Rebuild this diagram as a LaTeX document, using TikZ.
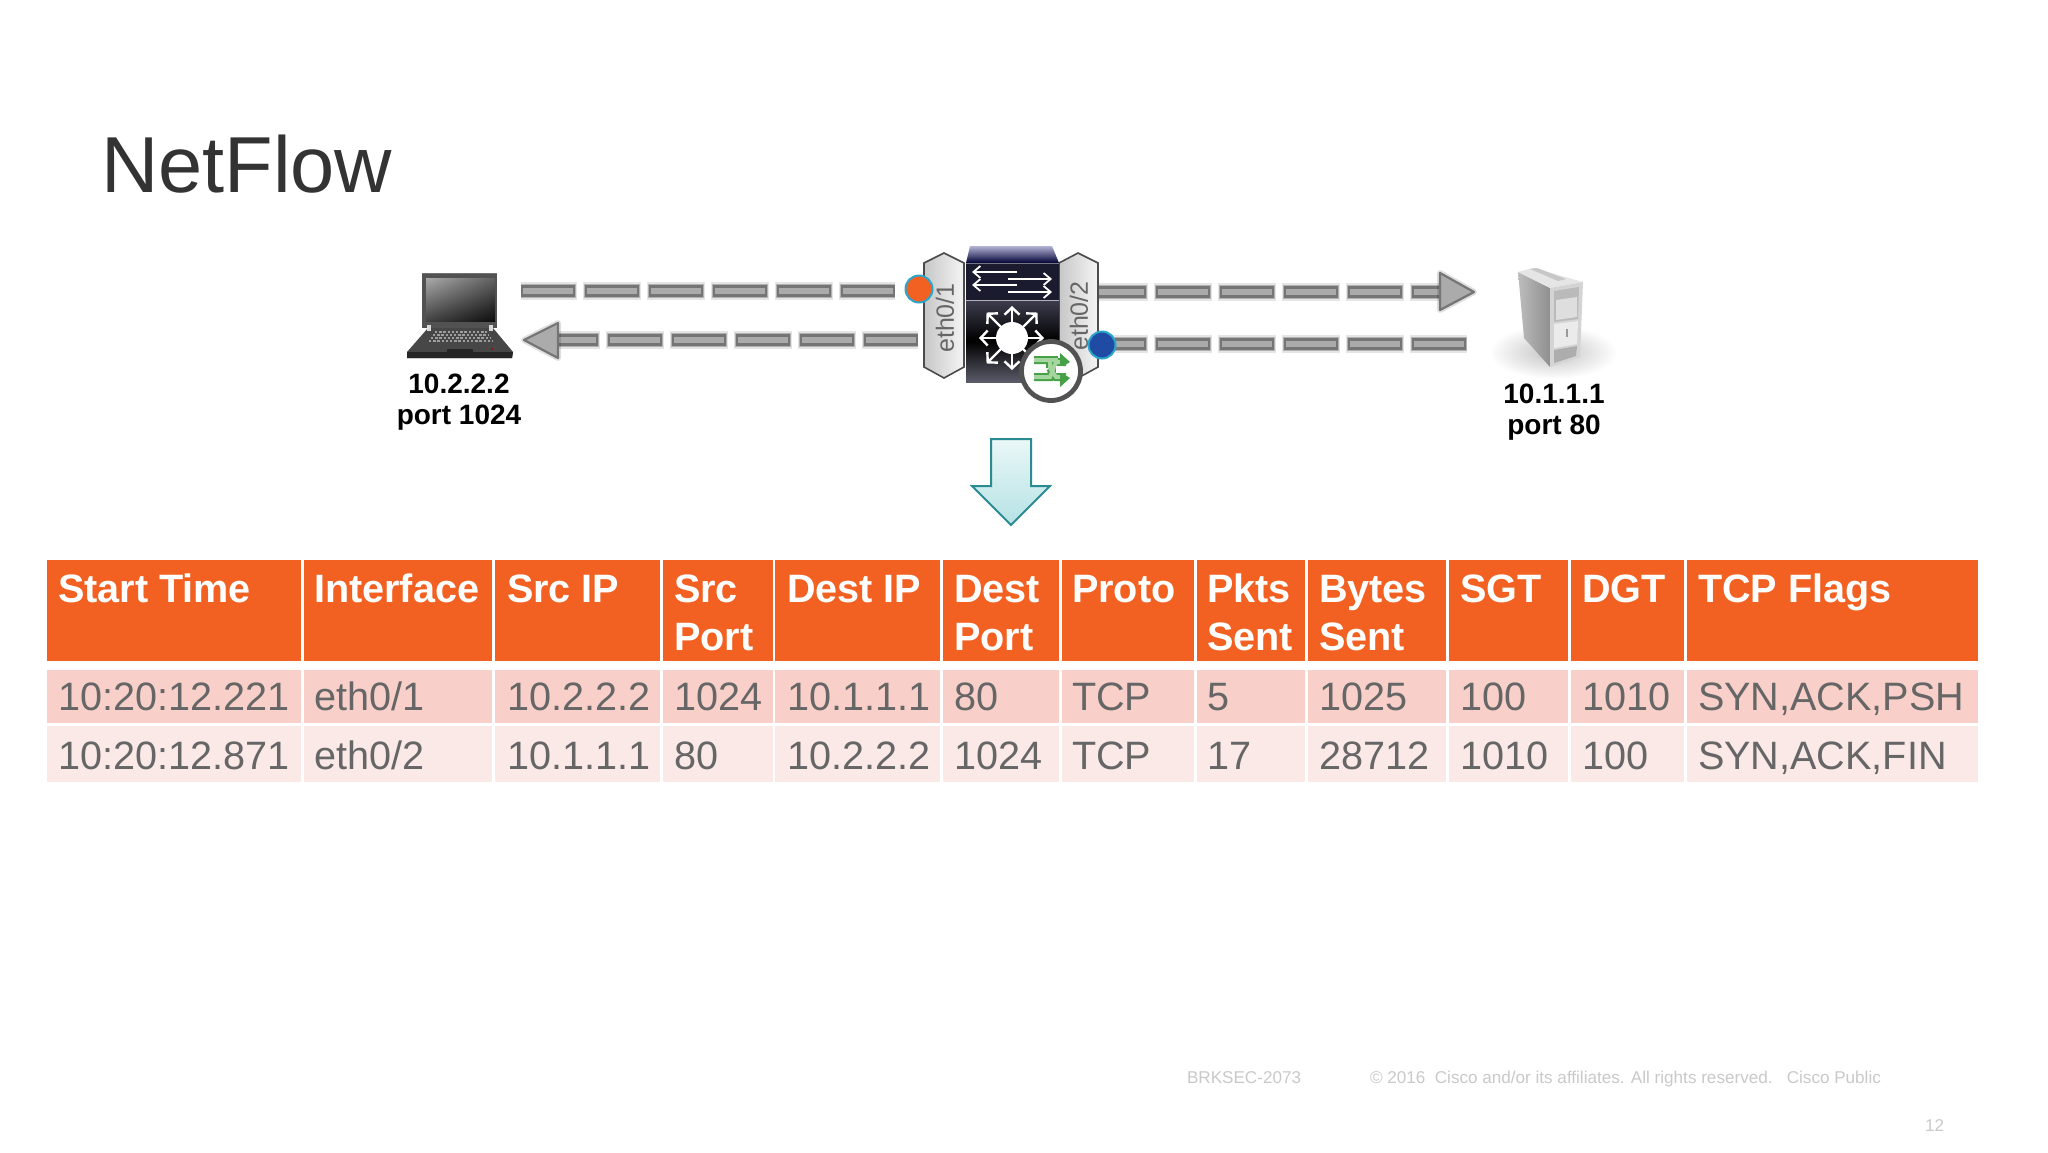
\documentclass[tikz,border=0pt]{standalone}
\usepackage{fontspec}
\setmainfont{Liberation Sans}
\usetikzlibrary{arrows.meta,fadings,shadings}
\definecolor{hdr}{HTML}{F26122}
\definecolor{rowa}{HTML}{F8D0C9}
\definecolor{rowb}{HTML}{FBE9E8}
\definecolor{datatxt}{HTML}{666666}
\definecolor{foot}{HTML}{C9C9C9}
\definecolor{flowcore}{HTML}{ABABAB}
\definecolor{flowedge}{HTML}{757575}
\definecolor{dotorange}{HTML}{F26122}
\definecolor{dotblue}{HTML}{1F4BA5}
\definecolor{dotrim}{HTML}{2BA6CB}
\definecolor{teal}{HTML}{2A8C92}
\definecolor{tealtop}{HTML}{EAF7F7}
\definecolor{tealbot}{HTML}{B5E2E4}
\definecolor{navy}{HTML}{1B1B30}
\definecolor{icondark}{HTML}{46A046}
\definecolor{iconlight}{HTML}{A5D6A0}
\newcommand{\fs}[1]{\fontsize{#1}{#1}\selectfont}
\tikzfading[name=glarefade,left color=transparent!15,right color=transparent!100]
\tikzset{
  txt/.style={inner sep=0pt,outer sep=0pt,anchor=base west},
  headtxt/.style={txt,text=white,font=\fs{19.8}\bfseries},
  celltxt/.style={txt,text=datatxt,font=\fs{19.8}},
  hosttxt/.style={inner sep=0pt,anchor=base,text=black,font=\fs{14}\bfseries},
  foottxt/.style={txt,text=foot,font=\fs{8.55}},
  ethtxt/.style={inner sep=0pt,rotate=90,text=datatxt,font=\fs{12.5}},
  halo/.style={draw=black,draw opacity=.10,line width=9pt,dash pattern=on 29pt off 3pt,dash phase=1pt},
  halob/.style={draw=black,draw opacity=.22,line width=7pt,dash pattern=on 28pt off 4pt,dash phase=.5pt},
  edgeline/.style={draw=flowedge,line width=5.6pt,dash pattern=on 27pt off 5pt},
  coreline/.style={draw=flowcore,line width=3.2pt,dash pattern=on 24.6pt off 7.4pt,dash phase=30.8pt},
  headpoly/.style={fill=flowcore,draw=flowedge,line width=1.1pt,line join=round},
  headglow/.style={draw=black,draw opacity=.13,line width=3pt,line join=round},
  hexa/.style={draw=black!70,line width=.8pt,left color=black!22,right color=black!4},
  portdot/.style={circle,minimum size=13.5pt,inner sep=0pt,draw=dotrim,line width=1pt},
  whitearrow/.style={draw=white,line width=.9pt,-{Straight Barb[length=3.5pt,width=6pt,line width=.9pt]}},
  radial/.style={draw=white,line width=1.2pt,-{Straight Barb[length=3.5pt,width=7.5pt,line width=1.2pt]}},
}
\newcommand{\flowline}[2]{%
  \draw[halo] (#1) -- (#2);
  \draw[halob] (#1) -- (#2);
  \draw[edgeline] (#1) -- (#2);
  \draw[coreline] (#1) -- (#2);}
\begin{document}
\begin{tikzpicture}[x=0.5pt,y=-0.5pt]
\useasboundingbox (0,0) rectangle (2048,1152);
\fill[white] (0,0) rectangle (2048,1152);

% title
\node[txt,text=black!80,font=\fs{39.7}] (title) at (101,192) {NetFlow};

% connector end points
\coordinate (lapOut) at (521,291);
\coordinate (swIn) at (895,291);
\coordinate (swInB) at (918,340);
\coordinate (lapIn) at (544,340);
\coordinate (swOut) at (1092,292);
\coordinate (srvIn) at (1442,292);
\coordinate (swOutB) at (1092,344);
\coordinate (srvOut) at (1467,344);

% flows
\flowline{lapOut}{swIn}
\flowline{swInB}{lapIn}
\flowline{swOut}{srvIn}
\flowline{swOutB}{srvOut}
\draw[headglow] (524,340) -- (558,323) -- (558,358) -- cycle;
\draw[headpoly] (524,340) -- (558,323) -- (558,358) -- cycle;
\draw[headglow] (1474,292) -- (1440,273) -- (1440,310) -- cycle;
\draw[headpoly] (1474,292) -- (1440,273) -- (1440,310) -- cycle;

% laptop
\fill[black!68] (422,273) rectangle (497,328);
\draw[black!55,line width=.5pt] (422,273) -- (497,273);
\shade[top color=black!62,bottom color=black!95] (426,278) rectangle (495,321);
\shade[top color=white!72!black,bottom color=black!70,path fading=glarefade] (426,278) rectangle (495,321);
\fill[black!72] (428,328) -- (493,328) -- (513,352) -- (512,358) -- (407,358) -- (407,352) -- cycle;
\fill[black!85] (407,352) -- (513,352) -- (512,358) -- (407,358) -- cycle;
\fill[black!72] (434,330) -- (488,330) -- (495,344) -- (427,344) -- cycle;
\foreach \yy/\xa/\xb in {332/435/487,335/433/489,338/431/491,341/429/493}
  \draw[black!38,line width=.9pt,dash pattern=on 1.2pt off .9pt] (\xa,\yy) -- (\xb,\yy);
\fill[white!85!black] (427,325) rectangle (431,331);
\fill[white!85!black] (489,325) rectangle (493,331);
\fill[black!85] (447,349) rectangle (473,353);
\fill[red!70!black] (492,349) circle (1.2);

% server
\shade[inner color=black!24,outer color=white] (1553,352) ellipse (64 and 27);
\shade[left color=black!26,right color=black!44] (1518,272) -- (1550,288) -- (1550,367) -- (1524,338) -- cycle;
\fill[black!10] (1518,272) -- (1533,268) -- (1583,282) -- (1550,288) -- cycle;
\fill[black!22] (1530,269) -- (1537,268) -- (1566,279) -- (1558,281) -- cycle;
\fill[black!17] (1550,288) -- (1583,282) -- (1580,357) -- (1550,367) -- cycle;
\fill[black!27] (1554,291) -- (1579,287) -- (1578,319) -- (1554,322) -- cycle;
\fill[black!13] (1556,300) -- (1577,297) -- (1577,317) -- (1556,320) -- cycle;
\fill[black!8] (1554,324) -- (1578,321) -- (1577,344) -- (1554,348) -- cycle;
\fill[black!40] (1566,329) rectangle (1568,337);
\fill[black!32] (1554,350) -- (1577,346) -- (1576,356) -- (1554,363) -- cycle;

% switch
\draw[hexa] (924,263) -- (944,253) -- (964,263) -- (964,367) -- (944,378) -- (924,367) -- cycle;
\draw[hexa] (1059,263) -- (1078,253) -- (1098,263) -- (1098,367) -- (1078,378) -- (1059,367) -- cycle;
\shade[top color=black!55!blue!30!white,bottom color=black!55!blue!45!black] (970,246) -- (1052,246) -- (1059,263) -- (966,263) -- cycle;
\fill[navy] (966,263) rectangle (1059,300);
\shade[top color=navy!85!white,bottom color=navy!72!white,middle color=black] (966,300) rectangle (1059,382);
\draw[white!65!navy,line width=.5pt] (966,300) -- (1059,300);
\draw[white!40!navy,line width=.5pt] (966,263) -- (1059,263);
\coordinate (hub) at (1012,338);
\draw[whitearrow] (1017,272) -- (972,272);
\draw[whitearrow] (1008,279) -- (1052,279);
\draw[whitearrow] (1017,285) -- (972,285);
\draw[whitearrow] (1008,292) -- (1052,292);
\foreach \ang/\len in {90/32,45/36,135/36,180/33,225/36,270/32,315/36,0/32}
  \draw[radial] (hub) -- ++(\ang:\len);
\fill[white] (hub) circle (16);

\node[ethtxt] (eth1) at (945,318) {eth0/1};
\node[ethtxt] (eth2) at (1079,316) {eth0/2};

\node[portdot,fill=dotorange] (dotA) at (919,289) {};
\node[portdot,fill=dotblue] (dotB) at (1102,345) {};

% badge
\node[circle,minimum size=29.5pt,inner sep=0pt,draw=black!68,line width=2.4pt,fill=white] (badge) at (1051,371) {};
\foreach \col/\wid in {icondark/4pt,iconlight/2pt}{
  \draw[draw=\col,line width=\wid] (1034,360) -- (1050,360) -- (1050,368) (1034,377) -- (1050,377) -- (1056,362) -- (1066,362);
  \draw[draw=\col,line width=\wid] (1050,368) -- (1056,377) -- (1066,377);
  \draw[draw=\col,line width=\wid] (1050,360) -- (1058,360);
}
\fill[icondark] (1060,353) -- (1070,362) -- (1060,368) -- cycle;
\fill[icondark] (1060,372) -- (1070,378) -- (1060,387) -- cycle;
\fill[white] (1056,366) rectangle (1063,373);

% hosts
\node[hosttxt] (lapA) at (459,393) {10.2.2.2};
\node[hosttxt] (lapB) at (459,424) {port 1024};
\node[hosttxt] (srvA) at (1554,403) {10.1.1.1};
\node[hosttxt] (srvB) at (1554,434) {port 80};

% teal arrow
\shade[top color=tealtop,bottom color=tealbot,draw=teal,line width=1pt,line join=miter]
  (991,439) -- (1031,439) -- (1031,486) -- (1050,486) -- (1011,525) -- (972,486) -- (991,486) -- cycle;

% table fills
\foreach \l/\r in {47/301,304/492,495/660,663/773,775/940,943/1059,1062/1194,1197/1305,1308/1446,1449/1568,1571/1684,1687/1978}{
  \fill[hdr] (\l,560) rectangle (\r,661);
  \fill[rowa] (\l,670) rectangle (\r,722.5);
  \fill[rowb] (\l,726) rectangle (\r,782);
}

% header
\foreach \n/\x/\t in {a/58/Start Time,b/314/Interface,c/507/Src IP,d/674/Src,e/787/Dest IP,f/954/Dest,g/1072/Proto,h/1207/Pkts,i/1319/Bytes,j/1460/SGT,k/1582/DGT,l/1698/TCP Flags}
  \node[headtxt] (h\n) at (\x,602) {\t};
\foreach \n/\x/\t in {d/674/Port,f/954/Port,h/1207/Sent,i/1319/Sent}
  \node[headtxt] (hh\n) at (\x,650) {\t};

% rows
\foreach \n/\x/\p/\q in {a/58/{10:20:12.221}/{10:20:12.871},b/314/{eth0/1}/{eth0/2},c/507/10.2.2.2/10.1.1.1,d/674/1024/80,e/787/10.1.1.1/10.2.2.2,f/954/80/1024,g/1072/TCP/TCP,h/1207/5/17,i/1319/1025/28712,j/1460/100/1010,k/1582/1010/100,l/1698/{SYN,ACK,PSH}/{SYN,ACK,FIN}}{
  \node[celltxt] (r\n) at (\x,710) {\p};
  \node[celltxt] (s\n) at (\x,769) {\q};
}

% footer
\node[foottxt] (fa) at (1187,1083) {BRKSEC-2073};
\node[foottxt] (fb) at (1370,1083) {© 2016\ \ Cisco and/or its affiliates. All rights reserved.\ \ \ Cisco Public};
\node[foottxt] (fc) at (1925,1131) {12};
\end{tikzpicture}
\end{document}
